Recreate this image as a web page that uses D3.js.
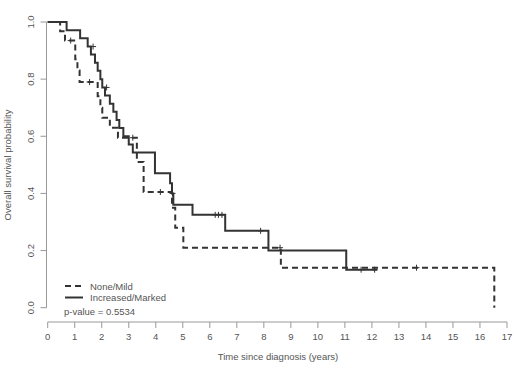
<!DOCTYPE html>
<html>
<head>
<meta charset="utf-8">
<script src="https://cdn.jsdelivr.net/npm/d3@7"></script>
<style>
  html, body { margin: 0; padding: 0; background: #fff; }
  svg { display: block; font-family: "Liberation Sans", Arial, sans-serif; }
</style>
</head>
<body>
<svg id="chart" width="520" height="375"></svg>
<script>
// step curves: [time, survival after the step]
var noneMildSteps = [
    [0, 1.0], [0.46, 0.968], [0.64, 0.935], [1.02, 0.87], [1.10, 0.83], [1.18, 0.79],
    [1.85, 0.74], [1.95, 0.70], [2.02, 0.665], [2.30, 0.63], [2.60, 0.595],
    [3.30, 0.51], [3.55, 0.405], [4.60, 0.35], [4.72, 0.28], [5.02, 0.21],
    [8.63, 0.14], [16.53, 0.0]
];
var noneMildCensored = [[0.85, 0.935], [1.55, 0.79], [3.15, 0.595], [4.17, 0.405], [8.60, 0.21], [13.65, 0.14]];

var increasedSteps = [
    [0, 1.0], [0.70, 0.971], [1.20, 0.943], [1.48, 0.914], [1.60, 0.886], [1.75, 0.857],
    [1.85, 0.829], [1.95, 0.800], [2.02, 0.771], [2.12, 0.743], [2.30, 0.714],
    [2.43, 0.686], [2.55, 0.657], [2.65, 0.629], [2.80, 0.600], [3.00, 0.571],
    [3.15, 0.543], [3.97, 0.471], [4.53, 0.436], [4.60, 0.400], [4.65, 0.360],
    [5.36, 0.325], [6.57, 0.269], [8.17, 0.200], [11.05, 0.133], [12.2, 0.133]
];
var increasedCensored = [[1.68, 0.914], [2.18, 0.771], [4.62, 0.40], [6.20, 0.325], [6.32, 0.325], [6.45, 0.325],
    [7.88, 0.269], [11.6, 0.133], [12.1, 0.133]];

var xTicks = d3.range(0, 18);
var yTicks = [0, 0.2, 0.4, 0.6, 0.8, 1.0];
var legendLabels = ['None/Mild', 'Increased/Marked'];
var pValueText = 'p-value = 0.5534';

var svg = d3.select('#chart');
var lineColor = '#333';
var axisColor = '#999';
var textColor = '#555';

var x = d3.scaleLinear().domain([0, 17]).range([47.7, 507]);
var y = d3.scaleLinear().domain([0, 1]).range([307.7, 22]);

// y axis (R style, labels rotated)
var yAxis = svg.append('g').attr('transform', 'translate(46.5,0)');
yAxis.append('line')
    .attr('x1', 0).attr('x2', 0)
    .attr('y1', y(0)).attr('y2', y(1))
    .attr('stroke', axisColor).attr('stroke-width', 1);
yAxis.selectAll('.tick').data(yTicks).enter().append('line')
    .attr('x1', 0).attr('x2', -6)
    .attr('y1', function (d) { return y(d); })
    .attr('y2', function (d) { return y(d); })
    .attr('stroke', axisColor);
yAxis.selectAll('.lbl').data(yTicks).enter().append('text')
    .attr('transform', function (d) { return 'translate(-13,' + y(d) + ') rotate(-90)'; })
    .attr('text-anchor', 'middle')
    .attr('font-size', 9.5)
    .attr('fill', textColor)
    .text(function (d) { return d3.format('.1f')(d); });

// x axis
var xAxis = svg.append('g').attr('transform', 'translate(0,322)');
xAxis.append('line')
    .attr('x1', x(0)).attr('x2', x(17))
    .attr('y1', 0).attr('y2', 0)
    .attr('stroke', axisColor);
xAxis.selectAll('.tick').data(xTicks).enter().append('line')
    .attr('x1', function (d) { return x(d); })
    .attr('x2', function (d) { return x(d); })
    .attr('y1', 0).attr('y2', 6)
    .attr('stroke', axisColor);
xAxis.selectAll('.lbl').data(xTicks).enter().append('text')
    .attr('x', function (d) { return x(d); })
    .attr('y', 18)
    .attr('text-anchor', 'middle')
    .attr('font-size', 9.5)
    .attr('fill', textColor)
    .text(function (d) { return d; });

// axis titles
svg.append('text')
    .attr('x', 278).attr('y', 360)
    .attr('text-anchor', 'middle')
    .attr('font-size', 9.5)
    .attr('fill', textColor)
    .text('Time since diagnosis (years)');
svg.append('text')
    .attr('transform', 'translate(11,165) rotate(-90)')
    .attr('text-anchor', 'middle')
    .attr('font-size', 9.5)
    .attr('fill', textColor)
    .text('Overall survival probability');

var step = d3.line()
    .x(function (d) { return x(d[0]); })
    .y(function (d) { return y(d[1]); })
    .curve(d3.curveStepAfter);

function drawCurve(steps, censored, dash) {
    var g = svg.append('g');
    g.append('path')
        .datum(steps)
        .attr('d', step)
        .attr('fill', 'none')
        .attr('stroke', lineColor)
        .attr('stroke-width', 2)
        .attr('stroke-dasharray', dash);
    g.selectAll('.cens').data(censored).enter().append('path')
        .attr('d', function (d) {
            var cx = x(d[0]), cy = y(d[1]);
            return 'M' + (cx - 3) + ',' + cy + 'H' + (cx + 3) + 'M' + cx + ',' + (cy - 3) + 'V' + (cy + 3);
        })
        .attr('stroke', lineColor)
        .attr('stroke-width', 1);
}

drawCurve(noneMildSteps, noneMildCensored, '6,4');
drawCurve(increasedSteps, increasedCensored, null);

// legend
var legend = svg.append('g');
var dashes = ['6,4', null];
legendLabels.forEach(function (label, i) {
    var ly = 286 + i * 11.5;
    legend.append('line')
        .attr('x1', 65).attr('x2', 83)
        .attr('y1', ly).attr('y2', ly)
        .attr('stroke', lineColor)
        .attr('stroke-width', 2)
        .attr('stroke-dasharray', dashes[i]);
    legend.append('text')
        .attr('x', 90).attr('y', ly + 3.5)
        .attr('font-size', 9.5)
        .attr('fill', textColor)
        .text(label);
});
legend.append('text')
    .attr('x', 64).attr('y', 315)
    .attr('font-size', 9.5)
    .attr('fill', textColor)
    .text(pValueText);
</script>
</body>
</html>
